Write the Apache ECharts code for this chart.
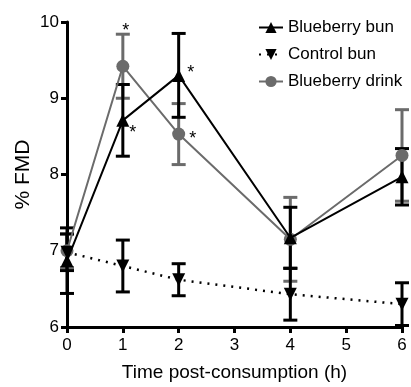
<!DOCTYPE html>
<html>
<head>
<meta charset="utf-8">
<script src="https://cdn.jsdelivr.net/npm/echarts@6/dist/echarts.min.js"></script>
<style>
  html, body { margin: 0; padding: 0; background: #fff; }
  #chart { width: 411px; height: 387px; }
</style>
</head>
<body>
<div id="chart"></div>
<script>
// time points (h)
const hours = [0, 1, 2, 4, 6];

// % FMD means and error (half bar length)
const bunMean = [6.87, 8.71, 9.30, 7.17, 7.97];
const bunErr = [0.43, 0.47, 0.55, 0.40, 0.37];
const controlMean = [6.98, 6.80, 6.62, 6.43, 6.30];
const controlErr = [0.24, 0.34, 0.21, 0.34, 0.28];
const drinkMean = [7.0, 9.42, 8.53, 7.15, 8.25];
const drinkErr = [0.22, 0.42, 0.40, 0.55, 0.60];

// significance marks
const bunSig = ['', '*', '*', '', ''];
const drinkSig = ['', '*', '*', '', ''];

const yTicks = [6, 7, 8, 9, 10];

const font = "'Liberation Sans', Arial, Helvetica, sans-serif";
const grey = '#6b6b6b';

function pairs(mean) {
  return hours.map((h, i) => [h, mean[i]]);
}

function errData(mean, err) {
  return hours.map((h, i) => [h, mean[i] - err[i], mean[i] + err[i]]);
}

function errSeries(id, mean, err, color) {
  return {
    type: 'custom',
    name: id,
    silent: true,
    z: 1,
    data: errData(mean, err),
    renderItem: function (params, api) {
      const lo = api.coord([api.value(0), api.value(1)]);
      const hi = api.coord([api.value(0), api.value(2)]);
      const w = 7;
      const style = { stroke: color, lineWidth: 3, fill: null };
      return {
        type: 'group',
        children: [
          { type: 'line', shape: { x1: lo[0], y1: lo[1], x2: hi[0], y2: hi[1] }, style: style },
          { type: 'line', shape: { x1: lo[0] - w, y1: lo[1], x2: lo[0] + w, y2: lo[1] }, style: style },
          { type: 'line', shape: { x1: hi[0] - w, y1: hi[1], x2: hi[0] + w, y2: hi[1] }, style: style }
        ]
      };
    }
  };
}

function sigLabels(mean, sig, offsets) {
  return hours.map((h, i) => ({
    value: [h, mean[i]],
    label: {
      show: sig[i] !== '',
      position: 'inside',
      formatter: sig[i],
      offset: offsets[i],
      color: '#000',
      fontSize: 18,
      fontFamily: font
    }
  }));
}

const chart = echarts.init(document.getElementById('chart'));
chart.setOption({
  animation: false,
  textStyle: { fontFamily: font },
  legend: {
    orient: 'vertical',
    left: 253,
    top: 14,
    itemWidth: 24,
    itemHeight: 14,
    itemGap: 10,
    textStyle: { fontSize: 17, lineHeight: 17, color: '#000', fontFamily: font },
    data: ['Blueberry bun', 'Control bun', 'Blueberry drink']
  },
  grid: { left: 67, right: 9, top: 22, bottom: 54 },
  xAxis: {
    type: 'value',
    min: 0,
    max: 6,
    interval: 1,
    name: 'Time post-consumption (h)',
    nameLocation: 'middle',
    nameGap: 36,
    nameTextStyle: { fontSize: 19, color: '#000', fontFamily: font },
    axisLine: { lineStyle: { color: '#000', width: 3 } },
    axisTick: { lineStyle: { color: '#000', width: 3 }, length: 6 },
    axisLabel: { color: '#000', fontSize: 17, margin: 10, fontFamily: font },
    splitLine: { show: false }
  },
  yAxis: {
    type: 'value',
    min: yTicks[0],
    max: yTicks[yTicks.length - 1],
    interval: 1,
    name: '% FMD',
    nameLocation: 'middle',
    nameGap: 33,
    nameMoveOverlap: false,
    nameTextStyle: { fontSize: 21, color: '#000', fontFamily: font },
    axisLine: { show: true, lineStyle: { color: '#000', width: 3 } },
    axisTick: { show: true, lineStyle: { color: '#000', width: 3 }, length: 6 },
    axisLabel: { color: '#000', fontSize: 17, margin: 8, fontFamily: font },
    splitLine: { show: false }
  },
  series: [
    errSeries('errDrink', drinkMean, drinkErr, grey),
    errSeries('errControl', controlMean, controlErr, '#000'),
    errSeries('errBun', bunMean, bunErr, '#000'),
    {
      type: 'line',
      name: 'Blueberry drink',
      z: 3,
      data: sigLabels(drinkMean, drinkSig, [[0, 0], [3, -35], [14, 5], [0, 0], [0, 0]]),
      symbol: 'circle',
      symbolSize: 13,
      color: grey,
      itemStyle: { color: grey },
      lineStyle: { color: grey, width: 2 }
    },
    {
      type: 'line',
      name: 'Control bun',
      z: 4,
      data: pairs(controlMean),
      symbol: 'triangle',
      symbolRotate: 180,
      symbolSize: 13,
      color: '#000',
      itemStyle: { color: '#000' },
      lineStyle: { color: '#000', width: 2.5, type: [2, 6] }
    },
    {
      type: 'line',
      name: 'Blueberry bun',
      z: 5,
      data: sigLabels(bunMean, bunSig, [[0, 0], [10, 13], [12, -2], [0, 0], [0, 0]]),
      symbol: 'triangle',
      symbolSize: 13,
      color: '#000',
      itemStyle: { color: '#000' },
      lineStyle: { color: '#000', width: 2 }
    }
  ]
});
</script>
</body>
</html>
